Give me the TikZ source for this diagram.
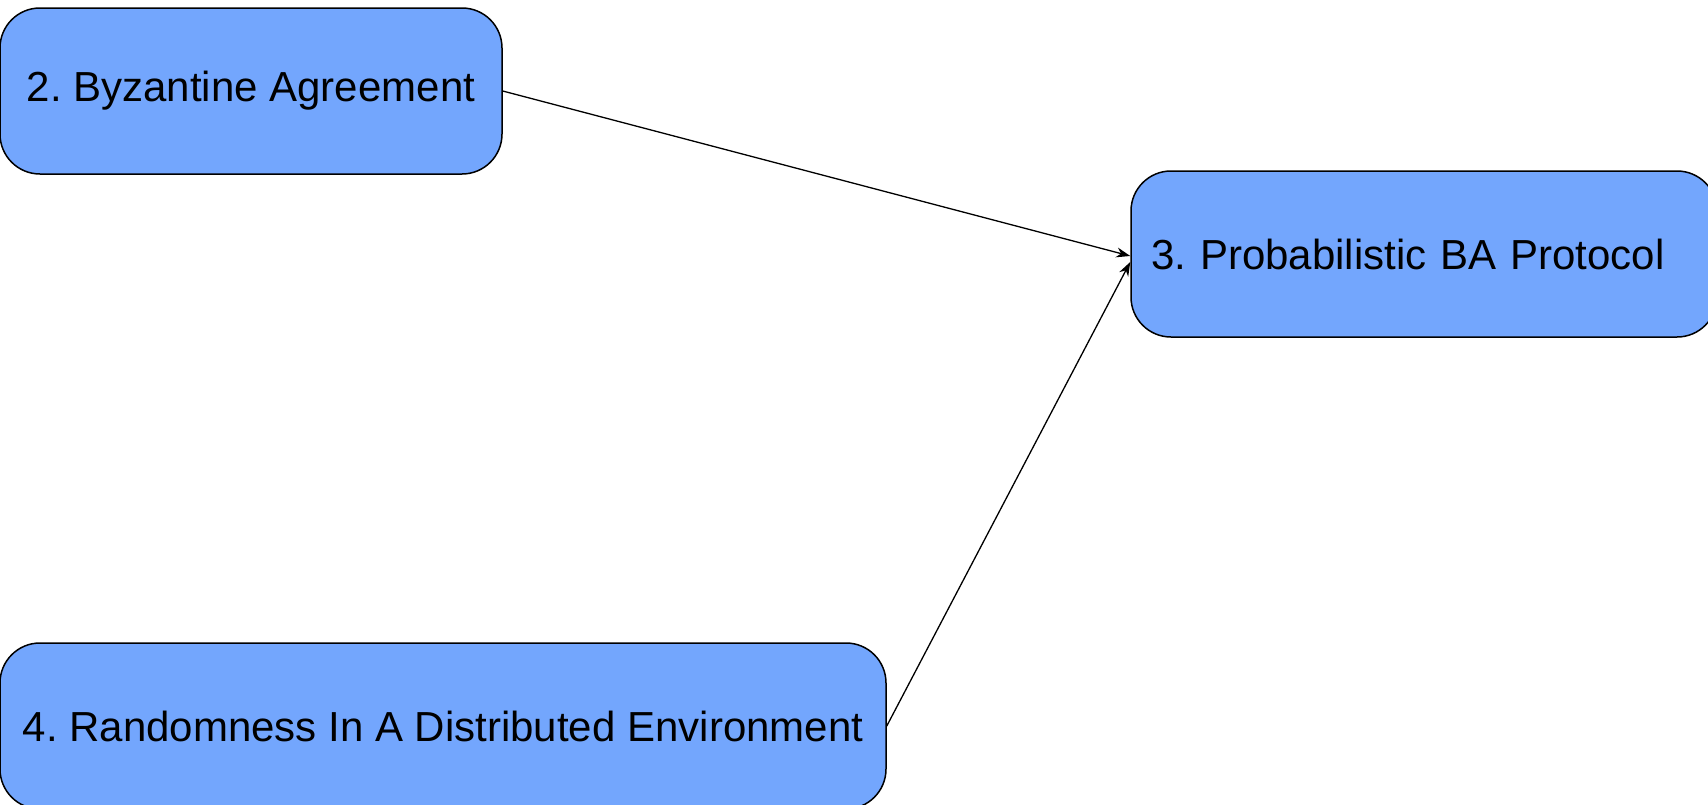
\documentclass[tikz,border=0pt]{standalone}
\usepackage{fontspec}
\setmainfont{Liberation Sans}
\usetikzlibrary{arrows.meta}
\definecolor{boxblue}{HTML}{73A6FD}
\frenchspacing
\begin{document}
\begin{tikzpicture}[x=0.5pt, y=-0.5pt,
		every node/.style={text centered, font=\fontsize{21}{25}\selectfont},
		topic/.style={draw, fill=boxblue, rounded corners=20pt, line width=0.75pt,
			minimum height=83pt, inner xsep=0pt}]
	\useasboundingbox (0,0) rectangle (1708,804);

		\draw (251, 91)		node[topic, minimum width=251pt] (byzantine)
				{2. Byzantine Agreement}

			(1424, 254)		node[topic, text width=273pt, inner xsep=10pt, align=left] (probabilistic)
				{3. Probabilistic BA Protocol}

			(443, 726)		node[topic, minimum width=443pt] (randomness)
				{4. Randomness In A Distributed Environment}
;

	\draw[-{Stealth[length=7pt, width=5pt]}, line width=0.65pt] (byzantine.east) -- ([yshift=-1pt]probabilistic.west);
	\draw[-{Stealth[length=7pt, width=5pt]}, line width=0.65pt] (randomness.east) -- ([yshift=-4pt]probabilistic.west);
\end{tikzpicture}
\end{document}
